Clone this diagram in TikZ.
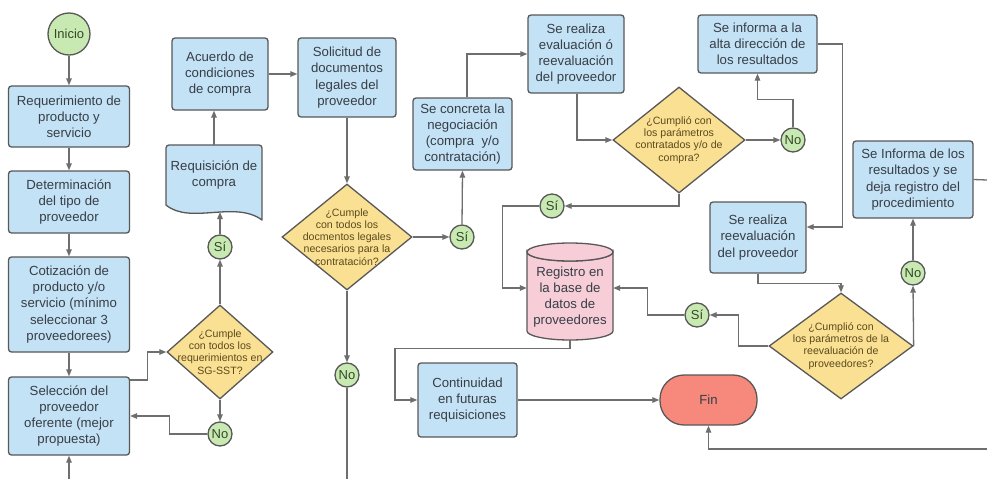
\documentclass[tikz,border=0pt]{standalone}
\usepackage{fontspec}
\setmainfont{Liberation Sans}
\usetikzlibrary{arrows.meta,shapes.geometric,calc}
\definecolor{boxblue}{RGB}{196,226,245}
\definecolor{bordercol}{RGB}{88,88,88}
\definecolor{diayellow}{RGB}{250,224,146}
\definecolor{cgreen}{RGB}{200,234,178}
\definecolor{dbpink}{RGB}{247,206,215}
\definecolor{finred}{RGB}{246,136,124}
\definecolor{linecol}{RGB}{110,110,110}
\definecolor{boxtext}{RGB}{55,62,70}
\definecolor{diatext}{RGB}{92,74,30}
\definecolor{ctext}{RGB}{50,72,40}
\begin{document}
\begin{tikzpicture}[x=1pt,y=-1pt,
  box/.style={draw=bordercol, line width=1.3pt, fill=boxblue, rounded corners=3pt,
    align=center, inner sep=0pt, text=boxtext, font=\fontsize{13.2}{16.2}\selectfont},
  sz/.style 2 args={minimum width=#1pt, minimum height=#2pt},
  dia/.style={diamond, draw=bordercol, line width=1.3pt, fill=diayellow, inner sep=0pt},
  dtext/.style={align=center, inner sep=0pt, text=diatext, font=\fontsize{10.6}{12.2}\selectfont},
  circ/.style={circle, draw=bordercol, line width=1.3pt, fill=cgreen, minimum size=24pt,
    inner sep=0pt, text=ctext, font=\fontsize{13}{14}\selectfont},
  plain/.style={align=center, inner sep=0pt, text=boxtext, font=\fontsize{13.2}{16.2}\selectfont},
  conn/.style={draw=linecol, line width=1.3pt},
  arr/.style={conn, -{Triangle[length=7pt,width=5.5pt]}}
]
\useasboundingbox[fill=white] (0,0) rectangle (987,479);

% left column
\node[circ, minimum size=42pt] (ini) at (69,34) {Inicio};
\node[box, sz={121}{61}] (b1) at (69,116.5) {Requerimiento de\\producto y\\servicio};
\node[box, sz={121}{62}] (b2) at (69,202) {Determinación\\del tipo de\\proveedor};
\node[box, sz={121}{95}] (b3) at (69,304.5) {Cotización de\\producto y/o\\servicio (mínimo\\seleccionar 3\\proveedorees)};
\node[box, sz={121}{78}] (b4) at (69,416) {Selección del\\proveedor\\oferente (mejor\\propuesta)};

% second column
\node[dia, minimum width=106pt, minimum height=94pt,
  label={[dtext]center:{¿Cumple\\con todos los\\requerimientos en\\SG-SST?}}] (d1) at (220,352) {};
\node[circ] (s1) at (220,247) {Sí};
\node[circ] (n1) at (220,434) {No};
\filldraw[draw=bordercol, line width=1.3pt, fill=boxblue, line join=round]
  (166,148) arc[start angle=180, end angle=270, radius=3] -- (259,145)
  arc[start angle=270, end angle=360, radius=3] -- (262,220)
  .. controls (235,200) and (190,225) .. (166,205) -- cycle;
\node[plain, sz={96}{60}] (rq) at (214,175) {Requisición de\\compra};
\coordinate (rqin) at (220,212);
\node[box, sz={96}{72}] (ac) at (220,74) {Acuerdo de\\condiciones\\de compra};

% third column
\node[box, sz={98}{79}] (sol) at (347,77.5) {Solicitud de\\documentos\\legales del\\proveedor};
\node[dia, minimum width=130pt, minimum height=106pt,
  label={[dtext]center:{¿Cumple\\con todos los\\docmentos legales\\necesarios para la\\contratación?}}] (d2) at (347,237) {};
\node[circ] (s2) at (462,237) {Sí};
\node[circ] (n2) at (347,375) {No};
\node[box, sz={99}{72}] (conc) at (462.5,134) {Se concreta la\\negociación\\(compra\ \ y/o\\contratación)};
\node[box, sz={99}{74}] (cont) at (467.5,400) {Continuidad\\en futuras\\requisiciones};

% database cylinder
\filldraw[draw=bordercol, line width=1.3pt, fill=dbpink]
  (527,252) -- (527,331) arc[start angle=180, end angle=0, x radius=43, y radius=9]
  -- (613,252) arc[start angle=0, end angle=180, x radius=43, y radius=9] -- cycle;
\filldraw[draw=bordercol, line width=1.3pt, fill=dbpink] (570,252) ellipse [x radius=43, y radius=9];
\node[inner sep=0pt, sz={86}{97},
  label={[plain, yshift=-5.5pt]center:{Registro en\\la base de\\datos de\\proveedores}}] (db) at (570,291.5) {};

\node[box, sz={96}{78}] (eval) at (576,54) {Se realiza\\evaluación ó\\reevaluación\\del proveedor};
\node[circ] (s3) at (552,206) {Sí};
\node[dia, minimum width=132pt, minimum height=106pt,
  label={[dtext]center:{¿Cumplió con\\los parámetros\\contratados y/o de\\compra?}}] (d3) at (679,140) {};
\node[circ] (n3) at (793,140) {No};
\node[box, sz={119}{58}] (inf) at (757.5,44) {Se informa a la\\alta dirección de\\los resultados};
\node[box, sz={96}{71}] (reev) at (758,237.5) {Se realiza\\reevaluación\\del proveedor};
\node[circ] (s4) at (697,315) {Sí};
\node[dia, minimum width=144pt, minimum height=106pt,
  label={[dtext]center:{¿Cumplió con\\los parámetros de la\\reevaluación de\\proveedores?}}] (d4) at (841,346) {};
\node[circ] (n4) at (913,273) {No};
\node[box, sz={120}{77}] (res) at (913,179.5) {Se Informa de los\\resultados y se\\deja registro del\\procedimiento};
\node[draw=bordercol, line width=1.3pt, fill=finred, rounded corners=24pt, sz={97}{50},
  text=boxtext, font=\fontsize{13.2}{16}\selectfont] (fin) at (708.5,400) {Fin};

% edge coordinates
\coordinate (eb1) at (69,479);
\coordinate (eb2) at (347,479);
\coordinate (er1) at (987,180);
\coordinate (er2) at (987,449);

% connectors
\draw[arr] (ini) -- (b1);
\draw[arr] (b1) -- (b2);
\draw[arr] (b2) -- (b3);
\draw[arr] (b3) -- (b4);
\draw[arr] (eb1) -- (b4.south);
\draw[arr] ([yshift=36pt]b4.east) -- ++(17,0) |- (d1.west);
\draw[arr] (n1.west) -- ++(-38,0) |- (b4.east);
\draw[arr] (d1.north) -- (s1.south);
\draw[arr] (d1.south) -- (n1.north);
\draw[arr] (s1.north) -- (rqin);
\draw[arr] (rq.north) -- (rq.north |- ac.south);
\draw[arr] (ac.east) -- (ac.east -| sol.west);
\draw[arr] (sol.south) -- (d2.north);
\draw[arr] (d2.east) -- (s2.west);
\draw[arr] (d2.south) -- (n2.north);
\draw[conn] (n2.south) -- (eb2);
\draw[arr] (s2.north) -- (conc.south);
\draw[arr] ([xshift=4.5pt]conc.north) |- (eval.west);
\draw[arr] ([xshift=1pt]eval.south) |- (d3.west);
\draw[arr] (d3.east) -- (n3.west);
\draw[arr] (n3.north) -- ++(0,-28) -| (inf.south);
\draw[arr] (inf.east) -- ++(25,0) |- ([yshift=10.5pt]reev.east);
\draw[arr] (d3.south) |- (s3.east);
\draw[arr] (s3.west) -- ++(-37,0) |- ([yshift=3.5pt]db.west);
\draw[arr] (reev.south) -- ++(0,10) -| (d4.north);
\draw[arr] (d4.west) -- ++(-30,0) |- (s4.east);
\draw[arr] (s4.west) -- ++(-37,0) |- ([yshift=3.5pt]db.east);
\draw[arr] (d4.east) -- (n4.south);
\draw[arr] (n4.north) -- (res.south);
\draw[conn] (res.east) -- (er1);
\draw[arr] (er2) -| (fin.south);
\draw[arr] (db.south) -- ++(0,8) -- ++(-175,0) |- (cont.west);
\draw[arr] (cont.east) -- (fin.west);
\end{tikzpicture}
\end{document}
